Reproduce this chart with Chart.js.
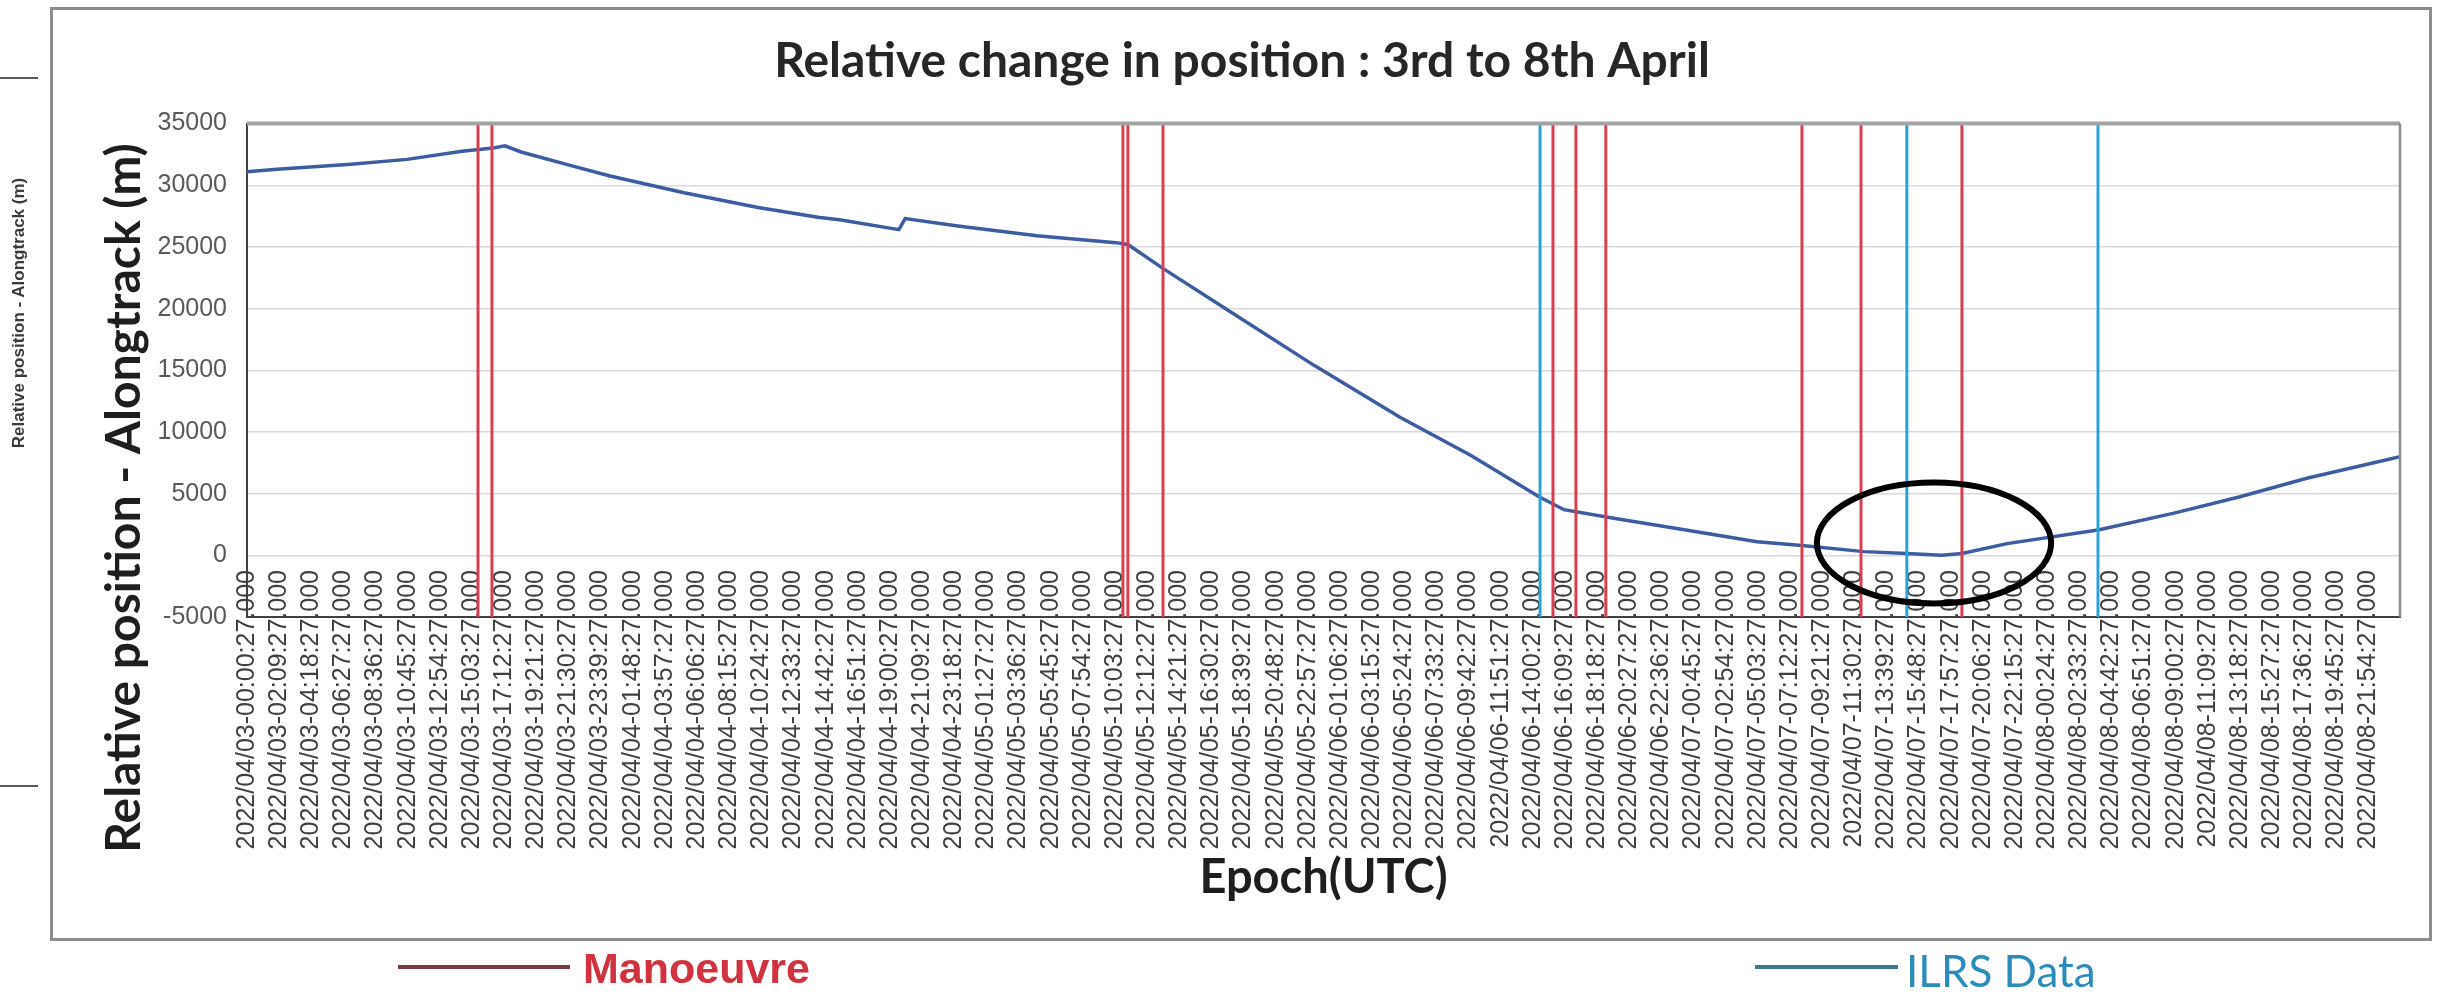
<!DOCTYPE html>
<html>
<head>
<meta charset="utf-8">
<script src="https://cdn.jsdelivr.net/npm/chart.js@4.4.1/dist/chart.umd.min.js"></script>
<style>
html,body{margin:0;padding:0;background:#fff;}
#stage{position:relative;width:2450px;height:998px;overflow:hidden;background:#fff;}
#chartBox{position:absolute;left:0;top:0;width:2450px;height:998px;}
#frame{position:absolute;left:50px;top:7px;width:2382px;height:934px;border:3px solid #8c8c8c;box-sizing:border-box;pointer-events:none;}
.stray{position:absolute;background:#5a5a5a;height:2px;left:0;width:38px;}
#strayText{position:absolute;left:19px;top:313px;transform:translate(-50%,-50%) rotate(-90deg);font:bold 17px "Liberation Sans",Arial,sans-serif;color:#3a3a3a;white-space:nowrap;}
.legLine{position:absolute;height:4px;}
.legText{position:absolute;white-space:nowrap;line-height:1;}
</style>
</head>
<body>
<div id="stage">
  <div id="chartBox"><canvas id="c"></canvas></div>
  <div id="frame"></div>
  <div class="stray" style="top:77px"></div>
  <div class="stray" style="top:785px"></div>
  <div id="strayText">Relative position - Alongtrack (m)</div>
  <div class="legLine" style="left:398px;width:172px;top:965px;background:#7a3a44;"></div>
  <div class="legText" style="left:583px;top:944px;font:bold 43px 'Liberation Sans',Arial,sans-serif;color:#d0323f;">Manoeuvre</div>
  <div class="legLine" style="left:1755px;width:143px;top:965px;background:#3f7a8c;"></div>
  <div class="legText" style="left:1906px;top:944px;font:44px Lato,sans-serif;color:#2b8cba;">ILRS Data</div>
</div>
<script>
// ---- data ----
const tickLabels = [
  "2022/04/03-00:00:27.000","2022/04/03-02:09:27.000","2022/04/03-04:18:27.000","2022/04/03-06:27:27.000",
  "2022/04/03-08:36:27.000","2022/04/03-10:45:27.000","2022/04/03-12:54:27.000","2022/04/03-15:03:27.000",
  "2022/04/03-17:12:27.000","2022/04/03-19:21:27.000","2022/04/03-21:30:27.000","2022/04/03-23:39:27.000",
  "2022/04/04-01:48:27.000","2022/04/04-03:57:27.000","2022/04/04-06:06:27.000","2022/04/04-08:15:27.000",
  "2022/04/04-10:24:27.000","2022/04/04-12:33:27.000","2022/04/04-14:42:27.000","2022/04/04-16:51:27.000",
  "2022/04/04-19:00:27.000","2022/04/04-21:09:27.000","2022/04/04-23:18:27.000",
  "2022/04/05-01:27:27.000","2022/04/05-03:36:27.000","2022/04/05-05:45:27.000","2022/04/05-07:54:27.000",
  "2022/04/05-10:03:27.000","2022/04/05-12:12:27.000","2022/04/05-14:21:27.000","2022/04/05-16:30:27.000",
  "2022/04/05-18:39:27.000","2022/04/05-20:48:27.000","2022/04/05-22:57:27.000",
  "2022/04/06-01:06:27.000","2022/04/06-03:15:27.000","2022/04/06-05:24:27.000","2022/04/06-07:33:27.000",
  "2022/04/06-09:42:27.000","2022/04/06-11:51:27.000","2022/04/06-14:00:27.000","2022/04/06-16:09:27.000",
  "2022/04/06-18:18:27.000","2022/04/06-20:27:27.000","2022/04/06-22:36:27.000",
  "2022/04/07-00:45:27.000","2022/04/07-02:54:27.000","2022/04/07-05:03:27.000","2022/04/07-07:12:27.000",
  "2022/04/07-09:21:27.000","2022/04/07-11:30:27.000","2022/04/07-13:39:27.000","2022/04/07-15:48:27.000",
  "2022/04/07-17:57:27.000","2022/04/07-20:06:27.000","2022/04/07-22:15:27.000",
  "2022/04/08-00:24:27.000","2022/04/08-02:33:27.000","2022/04/08-04:42:27.000","2022/04/08-06:51:27.000",
  "2022/04/08-09:00:27.000","2022/04/08-11:09:27.000","2022/04/08-13:18:27.000","2022/04/08-15:27:27.000",
  "2022/04/08-17:36:27.000","2022/04/08-19:45:27.000","2022/04/08-21:54:27.000"
];

// epochs in minutes after 2022/04/03-00:00:27 UTC
const alongTrackEpochMin = [0,120,417,642,863,930,995,1035,1100,1308,1457,1754,2051,2291,2378,2616,2641,2853,3170,3487,3535,3680,3965,4282,4627,4912,5185,5285,5485,5774,6060,6240,6489,6661,6800,6882,7063,7428,7729,7998,8266,8640];
// relative position - alongtrack (m)
const alongTrackValue = [31100,31300,31700,32100,32750,32900,33050,33200,32700,31550,30750,29400,28200,27400,27200,26400,27300,26700,25900,25350,25200,23200,19500,15400,11200,8100,4750,3700,3000,2050,1100,800,300,150,0,150,950,2050,3400,4750,6250,8000];

const manoeuvreEpochMin = [927,983,3515,3535,3676,5241,5333,5453,6240,6477,6882];
const ilrsEpochMin = [5189,6661,7428];

const yTicks = [-5000,0,5000,10000,15000,20000,25000,30000,35000];

// ---- helpers ----
function labelToMin(s){
  const m = s.match(/(\d+)\/(\d+)\/(\d+)-(\d+):(\d+):(\d+)/);
  return (parseInt(m[3],10)-3)*1440 + parseInt(m[4],10)*60 + parseInt(m[5],10);
}
const tickMinutes = tickLabels.map(labelToMin);
const yMin = yTicks[0], yMax = yTicks[yTicks.length-1];

// linear scale whose tick labels may reach up into the plot (as in the source chart)
class EpochScale extends Chart.LinearScale {
  _computeLabelArea(){ return null; }
}
EpochScale.id = 'epochLinear';
EpochScale.defaults = {};
Chart.register(EpochScale);

const datasets = [];
datasets.push({
  type:'line', label:'Relative position', order:2,
  data: alongTrackEpochMin.map((t,i)=>({x:t,y:alongTrackValue[i]})),
  borderColor:'#3d5da3', borderWidth:3.5, pointRadius:0, tension:0, fill:false
});
manoeuvreEpochMin.forEach(t=>datasets.push({
  type:'line', label:'Manoeuvre', order:0,
  data:[{x:t,y:yMin},{x:t,y:yMax}],
  borderColor:'#d5414e', borderWidth:3, pointRadius:0
}));
ilrsEpochMin.forEach(t=>datasets.push({
  type:'line', label:'ILRS Data', order:0,
  data:[{x:t,y:yMin},{x:t,y:yMax}],
  borderColor:'#2aa4d8', borderWidth:3, pointRadius:0
}));

const plotFrame = {
  id:'plotFrame',
  afterDatasetsDraw(chart){
    const {ctx, chartArea:a} = chart;
    ctx.save();
    ctx.strokeStyle='#a3a3a3'; ctx.lineWidth=4;
    ctx.beginPath(); ctx.moveTo(a.left,a.top); ctx.lineTo(a.right,a.top); ctx.stroke();
    ctx.strokeStyle='#8a8a8a'; ctx.lineWidth=2.5;
    ctx.beginPath(); ctx.moveTo(a.right,a.top); ctx.lineTo(a.right,a.bottom); ctx.stroke();
    ctx.restore();
  }
};
const yTitle = {
  id:'yTitle',
  afterDraw(chart, args, o){
    const ctx = chart.ctx;
    ctx.save();
    ctx.translate(o.x, o.y); ctx.rotate(-Math.PI/2);
    ctx.font = o.font; ctx.fillStyle = o.color;
    ctx.textAlign='center'; ctx.textBaseline='middle';
    ctx.fillText(o.text,0,0);
    ctx.restore();
  }
};
const highlight = {
  id:'highlight',
  afterDraw(chart, args, o){
    const {ctx, scales:{x,y}} = chart;
    const cx = x.getPixelForValue(o.cx), cy = y.getPixelForValue(o.cy);
    const rx = Math.abs(x.getPixelForValue(o.cx+o.hx)-cx);
    const ry = Math.abs(y.getPixelForValue(o.cy+o.hy)-cy);
    ctx.save();
    ctx.strokeStyle='#000'; ctx.lineWidth=6;
    ctx.beginPath(); ctx.ellipse(cx,cy,rx,ry,0,0,Math.PI*2); ctx.stroke();
    ctx.restore();
  }
};

new Chart(document.getElementById('c'), {
  type:'line',
  data:{datasets},
  plugins:[plotFrame, yTitle, highlight],
  options:{
    responsive:true, maintainAspectRatio:false, animation:false,
    layout:{padding:{left:84, right:50, top:0, bottom:82}},
    plugins:{
      legend:{display:false},
      tooltip:{enabled:false},
      title:{display:true, text:'Relative change in position : 3rd to 8th April',
        font:{family:'Lato', size:48, weight:'bold'}, color:'#262626',
        padding:{top:33, bottom:33}},
      yTitle:{text:'Relative position - Alongtrack (m)', x:125, y:498,
        font:'bold 48px Lato', color:'#1e1e1e'},
      highlight:{cx:6770, cy:1000, hx:470, hy:4900}
    },
    scales:{
      x:{
        type:'epochLinear', min:0, max:8640,
        afterBuildTicks(scale){ scale.ticks = tickMinutes.map(v=>({value:v})); },
        afterFit(scale){ scale.height = 299; },
        ticks:{autoSkip:false, maxRotation:90, minRotation:90, padding:-47,
          font:{family:'Liberation Sans', size:25}, color:'#404040',
          callback(v){ const i = tickMinutes.indexOf(v); return i>=0 ? tickLabels[i] : ''; }},
        grid:{display:false, drawTicks:false},
        border:{display:true, color:'#404040', width:2},
        title:{display:true, text:'Epoch(UTC)', font:{family:'Lato', size:47, weight:'bold'},
          color:'#1e1e1e', padding:{top:5, bottom:10}}
      },
      y:{
        type:'linear', min:yMin, max:yMax,
        afterBuildTicks(scale){ scale.ticks = yTicks.map(v=>({value:v})); },
        afterFit(scale){ scale.width = 163; },
        ticks:{padding:20, font:{family:'Liberation Sans', size:25}, color:'#595959',
          callback(v){ return String(v); }},
        grid:{color:'#d9d9d9', lineWidth:1.5, drawTicks:false},
        border:{display:true, color:'#404040', width:2}
      }
    }
  }
});
</script>
</body>
</html>
